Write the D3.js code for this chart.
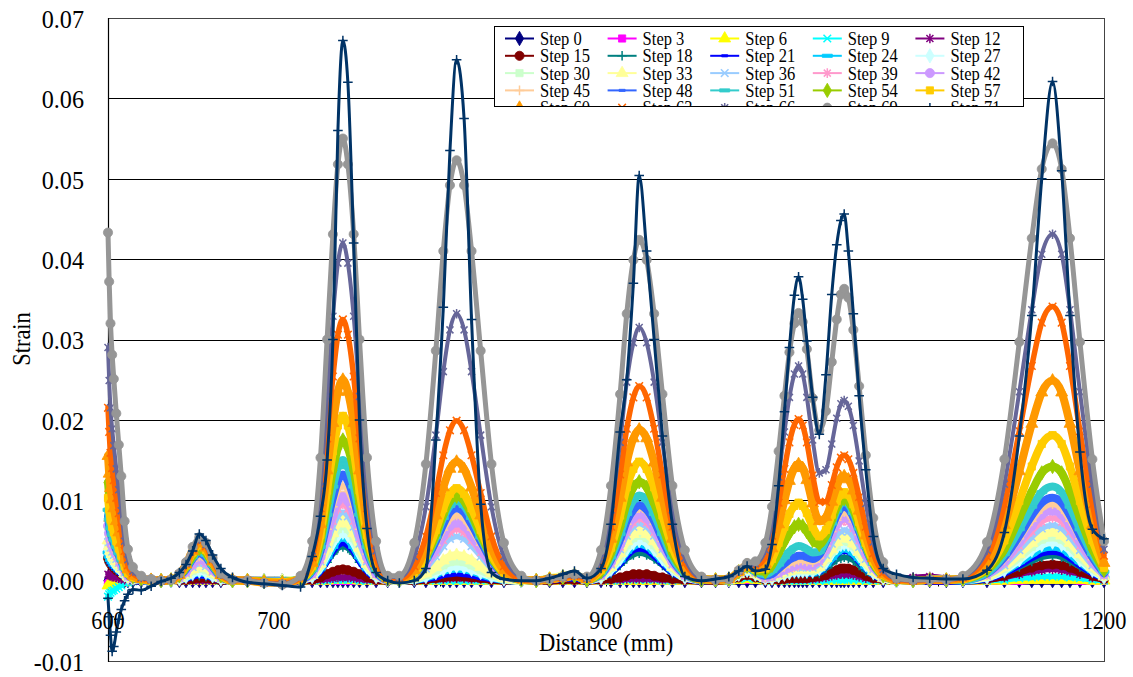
<!DOCTYPE html>
<html>
<head>
<meta charset="utf-8">
<script src="https://cdn.jsdelivr.net/npm/d3@7"></script>
<style>
html, body { margin: 0; padding: 0; background: #ffffff; }
svg { display: block; }
text { font-family: "Liberation Serif", "DejaVu Serif", serif; fill: #000; }
</style>
</head>
<body>
<svg id="chart" width="1133" height="677"></svg>
<script>
// Sensor positions along the specimen (mm)
const distance = [
  600, 600.7, 601.5, 602.5, 603.5, 605, 606.5, 608, 610, 612, 615,
  620, 626, 632, 638, 643, 647, 651, 655, 659, 663, 668, 675, 684, 694, 705,
  716, 723, 728, 732, 735.5, 738.5, 741.5, 744.5, 748, 751.5, 756, 761.5, 768.5,
  775.5, 784.5, 791.5, 797.5, 802, 806, 810, 814.5, 819, 824.5, 831, 838.5, 849,
  858, 866, 874, 881,
  888.5, 897, 903, 908.5, 912.5, 916.5, 920, 924.5, 929, 934, 940, 947.5, 957.5,
  966, 974, 980, 985,
  990, 996, 1000, 1004, 1007.5, 1010.5, 1013.5, 1016, 1018.5, 1021, 1024.5, 1028.5, 1032.5,
  1036, 1039, 1041.5, 1043.5, 1046, 1049, 1052.5, 1056.5, 1061, 1067, 1075, 1085,
  1095, 1105,
  1115, 1129.5, 1140, 1149, 1156.5, 1162.5, 1169, 1174.5, 1179.5, 1185.5, 1193, 1200
];

// Strain readings for each load step, in units of 1e-4
const step00 = [
  0,0,0,0,0,0,0,0,0,0,0,
  0,0,0,0,0,0,0,0,0,0,0,0,0,0,0,
  0,0,0,0,0,0,0,0,0,0,0,0,0,
  0,0,0,0,0,0,0,0,0,0,0,0,0,
  0,0,0,0,
  0,0,0,0,0,0,0,0,0,0,0,0,0,
  0,0,0,0,
  0,0,0,0,0,0,0,0,0,0,0,0,0,0,0,0,0,0,0,0,0,0,0,0,0,
  0,0,
  0,0,0,0,0,0,0,0,0,0,0,0
];
const step03 = [
  -4,-3,-3,-3,-2,-2,-2,-1,-1,0,0,
  0,0,0,0,0,0,0,0,0,0,0,0,0,0,0,
  0,0,0,0,0,0,0,0,0,0,0,0,0,
  0,0,0,0,0,0,0,0,0,0,0,0,0,
  0,0,0,0,
  0,0,0,0,0,0,0,0,0,0,0,0,0,
  0,0,1,1,
  1,0,0,0,0,0,0,0,0,0,0,0,0,0,0,0,0,0,0,0,0,0,0,0,0,
  0,0,
  0,0,0,0,1,1,1,1,1,0,0,0
];
const step06 = [
  -6,-5,-4,-4,-3,-3,-2,-2,-1,-1,0,
  0,0,0,0,0,0,0,0,0,0,0,0,0,0,0,
  0,0,0,0,1,1,1,1,1,0,0,0,0,
  0,0,0,0,0,0,0,0,0,0,0,0,0,
  0,0,0,0,
  0,0,0,0,0,0,0,0,0,0,0,0,0,
  0,0,1,2,
  1,0,0,0,0,0,0,0,0,0,0,0,0,0,0,0,0,0,0,0,0,0,0,0,0,
  0,0,
  0,0,0,1,1,1,1,1,1,1,0,0
];
const step09 = [
  -20,-17,-15,-13,-12,-10,-8,-6,-3,-2,-1,
  0,0,0,0,0,0,0,0,0,0,0,0,0,0,0,
  0,0,0,0,1,1,1,1,1,0,0,0,0,
  0,0,0,0,0,0,0,0,0,0,0,0,0,
  0,0,0,0,
  0,0,0,0,1,1,1,1,1,0,0,0,0,
  0,0,2,3,
  2,0,0,0,0,0,0,0,0,0,0,0,0,1,1,1,1,1,1,1,0,0,0,0,0,
  0,0,
  0,0,1,3,4,5,5,5,4,3,1,0
];
const step12 = [
  8,7,6,5,5,4,3,2,1,1,0,
  0,0,0,0,0,0,0,0,0,0,0,0,0,0,0,
  0,0,1,2,3,4,4,4,3,2,1,0,0,
  0,0,1,2,2,3,3,3,2,2,1,0,0,
  0,0,0,0,
  0,0,1,1,2,2,2,2,2,1,1,0,0,
  0,1,4,6,
  4,1,1,1,1,2,2,2,2,2,2,3,4,6,7,8,8,8,7,5,3,2,1,2,4,
  5,3,
  1,1,4,8,11,13,14,13,11,8,4,1
];
const step15 = [
  28,24,21,18,16,13,11,8,5,3,1,
  0,0,0,0,0,1,2,3,3,2,0,0,0,0,0,
  0,1,4,8,11,13,14,13,11,8,4,1,0,
  0,0,1,3,4,5,5,5,4,3,1,0,0,
  0,0,1,1,
  0,1,2,4,6,8,8,8,6,4,2,1,0,
  0,1,4,7,
  4,1,1,1,2,3,3,3,3,3,4,5,7,11,13,15,15,15,13,10,6,3,1,0,0,
  0,0,
  0,2,6,11,16,19,20,19,16,11,6,2
];
const step18 = [
  28,24,21,18,16,13,11,8,5,3,1,
  0,0,0,0,1,3,5,6,5,3,1,0,0,0,0,
  0,4,12,23,33,40,42,40,33,23,12,4,0,
  0,1,3,7,9,11,12,11,9,7,3,1,0,
  0,1,2,3,
  0,3,9,19,27,32,34,32,27,19,9,3,0,
  0,1,6,10,
  6,2,2,4,6,7,8,8,9,8,8,9,15,21,26,28,29,28,25,19,12,6,2,0,0,
  0,0,
  0,3,9,17,24,29,31,29,24,17,9,3
];
const step21 = [
  31,27,23,20,18,15,12,9,5,3,1,
  0,0,0,0,1,3,6,8,7,4,1,0,0,0,0,
  1,4,13,26,38,45,48,45,38,26,13,4,1,
  0,1,3,5,8,9,10,9,8,5,3,1,0,
  0,1,3,4,
  0,4,11,22,32,39,41,39,32,22,11,4,0,
  1,1,7,11,
  7,2,3,5,7,9,10,10,11,10,10,12,19,27,34,37,38,37,33,25,16,8,2,0,0,
  0,0,
  0,3,10,20,29,35,37,35,29,20,10,3
];
const step24 = [
  35,30,26,23,20,17,14,11,6,3,1,
  1,0,0,0,2,4,8,10,9,5,2,0,0,0,0,
  1,5,15,29,42,51,54,51,42,29,15,5,1,
  0,1,4,8,12,14,15,14,12,8,4,1,0,
  0,2,4,6,
  1,4,13,25,36,43,46,43,36,25,13,4,1,
  1,1,7,12,
  7,2,3,5,8,9,11,11,11,11,10,13,20,28,35,39,40,39,34,27,17,9,3,0,0,
  1,1,
  0,4,12,23,33,40,42,40,33,23,12,4
];
const step27 = [
  40,34,30,26,23,19,16,12,7,4,2,
  1,0,0,0,2,5,9,12,10,6,2,0,0,0,0,
  1,5,17,33,47,56,60,56,47,33,17,5,1,
  0,2,5,10,14,17,18,17,14,10,5,2,0,
  0,2,5,7,
  1,4,14,27,39,47,50,47,39,27,14,4,1,
  1,1,8,13,
  8,3,3,6,8,10,12,12,12,12,12,15,23,34,41,45,46,45,40,31,20,10,3,0,0,
  1,1,
  1,4,13,26,38,45,48,45,38,26,13,4
];
const step30 = [
  45,39,33,29,26,22,18,14,8,4,2,
  1,0,0,0,2,6,12,15,13,8,2,0,0,0,0,
  1,6,19,37,53,64,68,64,53,37,19,6,1,
  0,2,7,13,19,23,24,23,19,13,7,2,0,
  0,3,6,8,
  1,5,16,31,44,53,56,53,44,31,16,5,1,
  1,1,8,14,
  8,3,4,6,9,11,13,13,13,13,12,16,26,36,44,49,50,48,43,33,22,11,3,0,0,
  1,1,
  1,5,15,29,42,51,54,51,42,29,15,5
];
const step33 = [
  50,43,37,33,29,24,20,15,9,5,2,
  1,0,0,0,3,8,14,18,16,9,3,0,0,0,0,
  1,7,21,41,59,71,75,71,59,41,21,7,1,
  0,3,9,17,25,30,32,30,25,17,9,3,0,
  0,3,6,8,
  1,6,17,34,49,58,62,58,49,34,17,6,1,
  1,1,8,14,
  8,3,4,7,10,12,14,14,14,14,14,17,28,39,48,53,54,52,46,36,23,12,3,0,0,
  1,1,
  1,5,17,33,47,56,60,56,47,33,17,5
];
const step36 = [
  56,48,41,36,32,27,22,17,10,5,2,
  1,0,0,1,3,9,17,21,18,11,3,0,0,0,0,
  1,8,24,46,67,80,85,80,67,46,24,8,1,
  1,5,15,30,43,52,55,52,43,30,15,5,1,
  0,2,4,6,
  1,6,20,39,56,67,71,67,56,39,20,6,1,
  1,1,9,15,
  10,3,4,8,11,14,16,17,16,16,16,21,32,46,56,61,63,61,54,42,27,14,4,0,0,
  1,1,
  1,6,19,38,54,65,69,65,54,38,19,6
];
const step39 = [
  62,53,46,40,36,30,24,19,11,6,2,
  1,0,0,1,4,10,19,24,21,12,4,0,0,0,0,
  1,8,26,52,74,89,95,89,74,52,26,8,1,
  1,6,18,35,50,60,64,60,50,35,18,6,1,
  0,2,4,6,
  1,7,21,42,60,72,77,72,60,42,21,7,1,
  1,1,9,15,
  10,3,5,9,13,15,17,19,19,18,18,24,38,54,66,73,75,73,65,50,32,16,5,1,0,
  1,1,
  1,7,22,43,61,73,78,73,61,43,22,7
];
const step42 = [
  68,58,50,44,39,33,27,20,12,6,3,
  1,0,0,1,4,11,21,27,23,14,4,0,0,0,-1,
  1,9,29,57,82,99,105,99,82,57,29,9,1,
  1,6,20,39,56,68,72,68,56,39,20,6,1,
  0,2,4,6,
  1,7,23,45,65,78,83,78,65,45,23,7,1,
  1,1,10,16,
  11,4,6,10,14,17,19,21,21,19,20,26,39,57,70,77,79,77,68,53,34,17,5,1,0,
  1,1,
  1,8,24,48,68,82,87,82,68,48,24,8
];
const step45 = [
  74,64,55,48,43,36,29,22,13,7,3,
  1,0,0,1,5,13,24,30,26,15,5,0,0,0,-1,
  1,11,33,64,92,111,118,111,92,64,33,11,1,
  1,7,23,44,63,76,81,76,63,44,23,7,1,
  0,2,4,6,
  1,8,25,49,70,85,90,85,70,49,25,8,1,
  1,1,10,16,
  11,4,7,12,17,21,23,25,25,24,23,28,43,61,75,83,85,82,73,57,37,18,5,1,0,
  1,1,
  1,8,26,52,74,89,95,89,74,52,26,9
];
const step48 = [
  80,69,59,52,46,38,31,24,14,7,3,
  1,0,0,1,5,14,27,34,29,17,5,0,0,-1,-1,
  1,12,37,72,103,124,132,124,103,72,37,12,1,
  1,8,25,49,70,85,90,85,70,49,25,8,1,
  0,2,4,6,
  1,8,26,51,74,88,94,88,74,51,26,8,1,
  1,2,10,17,
  11,6,8,15,21,26,29,31,31,29,27,32,48,66,81,90,92,89,79,61,40,20,6,1,0,
  1,1,
  1,9,29,56,81,97,103,97,81,56,29,9
];
const step51 = [
  88,76,65,57,51,42,34,26,15,8,4,
  1,0,0,1,6,16,29,37,32,19,6,0,0,-1,-1,
  2,13,42,82,117,141,150,141,117,82,42,13,2,
  1,9,28,54,78,93,99,93,78,54,28,9,1,
  0,2,4,6,
  1,9,29,58,83,100,106,100,83,58,29,9,1,
  1,2,10,17,
  11,8,12,20,29,36,41,43,42,39,35,36,51,71,87,96,98,95,84,65,42,21,6,1,0,
  1,1,
  1,10,33,64,92,110,117,110,92,64,33,11
];
const step54 = [
  122,105,90,79,71,59,48,37,21,11,5,
  2,0,0,1,6,17,31,40,35,21,6,0,0,-1,-2,
  2,16,49,96,137,165,175,165,137,96,49,16,2,
  1,9,29,57,82,99,105,99,82,57,29,9,1,
  0,2,4,6,
  1,11,34,67,96,116,123,116,96,67,34,11,1,
  1,2,11,18,
  13,11,19,34,48,59,67,70,68,61,50,45,56,75,91,100,102,99,88,68,44,22,6,1,0,
  1,1,
  2,13,39,78,111,134,142,134,111,78,39,13
];
const step57 = [
  103,89,76,67,60,49,40,31,18,9,4,
  2,0,0,1,7,19,35,44,38,23,7,0,0,-2,-2,
  2,18,57,112,161,193,205,193,161,112,57,18,2,
  1,10,32,63,90,108,115,108,90,63,32,10,1,
  0,2,4,6,
  2,13,41,81,116,139,148,139,116,81,41,13,2,
  1,2,11,18,
  14,15,27,47,67,83,93,97,93,84,67,55,63,82,99,107,110,107,95,73,47,24,7,1,0,
  1,1,
  2,16,50,99,142,170,181,170,142,99,50,16
];
const step60 = [
  155,133,115,101,90,74,60,47,26,14,6,
  2,1,0,1,7,20,37,47,41,24,7,1,0,-2,-3,
  3,22,70,137,196,235,250,235,196,137,70,22,3,
  2,13,41,81,116,139,148,139,116,81,41,13,2,
  0,2,4,6,
  2,17,52,103,147,177,188,177,147,103,52,17,2,
  1,2,11,19,
  16,21,40,70,100,124,140,145,140,125,96,74,79,98,117,128,130,126,112,87,56,28,8,1,0,
  1,1,
  3,22,69,136,195,234,249,234,195,136,69,22
];
const step63 = [
  215,185,159,140,125,103,84,65,37,19,9,
  3,1,0,1,8,21,39,50,43,26,8,1,0,-3,-4,
  4,29,90,177,254,306,325,306,254,177,90,29,4,
  2,18,55,109,156,187,199,187,156,109,55,18,2,
  0,2,4,6,
  3,22,67,132,189,228,242,228,189,132,67,22,3,
  1,2,12,20,
  19,29,56,97,139,172,194,201,193,172,131,98,98,119,141,153,156,151,134,104,67,34,10,1,0,
  1,1,
  4,30,95,186,267,321,341,321,267,186,95,31
];
const step66 = [
  290,249,215,189,168,139,113,87,49,26,12,
  4,1,0,1,8,22,41,52,45,27,8,1,0,-3,-4,
  5,37,117,229,329,395,420,395,329,229,117,37,5,
  4,30,92,181,260,312,332,312,260,181,92,30,4,
  0,2,4,7,
  3,28,88,172,247,296,315,296,247,172,88,28,3,
  1,2,12,20,
  21,38,74,129,185,228,257,267,257,228,175,134,138,170,202,220,224,217,193,149,96,48,14,2,0,
  1,1,
  5,38,120,235,337,406,431,406,337,235,120,39
];
const step69 = [
  433,372,320,281,251,208,169,130,74,39,17,
  6,2,0,1,9,23,42,54,47,28,9,1,0,-3,-5,
  6,49,153,300,431,518,550,518,431,300,153,49,6,
  6,47,145,286,410,492,523,492,410,286,145,47,6,
  0,2,5,8,
  5,38,118,232,332,399,424,399,332,232,118,38,5,
  1,2,13,22,
  24,47,92,161,230,284,320,333,322,288,227,187,211,272,325,356,363,352,312,242,156,78,23,3,1,
  1,1,
  6,48,151,297,426,512,544,512,426,297,151,49
];
const step71 = [
  -22,-45,-68,-88,-82,-64,-48,-36,-25,-17,-11,
  -12,-7,-1,3,10,20,37,58,50,32,15,4,-2,-4,-6,
  -8,30,80,150,300,560,672,620,420,200,65,10,0,
  -3,0,15,175,340,535,648,575,325,95,10,2,0,
  0,3,8,12,
  3,15,70,185,250,370,504,410,300,180,70,5,0,
  2,5,12,18,
  12,14,45,118,210,290,355,378,350,298,228,182,256,356,418,448,456,410,332,230,138,55,15,8,4,
  3,2,
  2,13,60,180,330,500,621,510,330,160,64,52
];

const stepNames = [
  "Step 0", "Step 3", "Step 6", "Step 9", "Step 12",
  "Step 15", "Step 18", "Step 21", "Step 24", "Step 27",
  "Step 30", "Step 33", "Step 36", "Step 39", "Step 42",
  "Step 45", "Step 48", "Step 51", "Step 54", "Step 57",
  "Step 60", "Step 63", "Step 66", "Step 69", "Step 71"
];
const stepValues = [
  step00, step03, step06, step09, step12,
  step15, step18, step21, step24, step27,
  step30, step33, step36, step39, step42,
  step45, step48, step51, step54, step57,
  step60, step63, step66, step69, step71
];

const yTicks = [-0.01, 0.00, 0.01, 0.02, 0.03, 0.04, 0.05, 0.06, 0.07];
const yTickLabels = ["-0.01", "0.00", "0.01", "0.02", "0.03", "0.04", "0.05", "0.06", "0.07"];
const xTicks = [600, 700, 800, 900, 1000, 1100, 1200];
const xTickLabels = ["600", "700", "800", "900", "1000", "1100", "1200"];

// ---- styling (classic spreadsheet series palette and marker cycle) ----
const palette = [
  "#000080", "#FF00FF", "#FFFF00", "#00FFFF", "#800080",
  "#800000", "#008080", "#0000FF", "#00CCFF", "#CCFFFF",
  "#CCFFCC", "#FFFF99", "#99CCFF", "#FF99CC", "#CC99FF",
  "#FFCC99", "#3366FF", "#33CCCC", "#99CC00", "#FFCC00",
  "#FF9900", "#FF6600", "#666699", "#969696", "#003366"
];
const markerCycle = ["diamond", "square", "triangle", "cross", "star", "circle", "plus", "dash", "longdash"];

function markerPath(type) {
  switch (type) {
    case "diamond":  return d3.symbol(d3.symbolDiamond, 60)();
    case "square":   return d3.symbol(d3.symbolSquare, 52)();
    case "triangle": return d3.symbol(d3.symbolTriangle, 62)();
    case "circle":   return d3.symbol(d3.symbolCircle, 66)();
    case "cross":    return "M-3.8,-3.8L3.8,3.8M-3.8,3.8L3.8,-3.8";
    case "star":     return "M-3.5,-3.5L3.5,3.5M-3.5,3.5L3.5,-3.5M0,-4.8L0,4.8";
    case "plus":     return "M-4.8,0L4.8,0M0,-4.8L0,4.8";
    case "dash":     return "M-3,-1.1H3V1.1H-3Z";
    case "longdash": return "M-5,-1.6H5V1.6H-5Z";
  }
}
const strokeOnly = new Set(["cross", "star", "plus"]);

function styleMarker(sel, type, color) {
  if (strokeOnly.has(type)) {
    sel.attr("fill", "none").attr("stroke", color).attr("stroke-width", 1.5);
  } else {
    sel.attr("fill", color).attr("stroke", color).attr("stroke-width", 0.8);
  }
}

// width of the densely packed marker band drawn beneath each series' glyphs
function bandWidth(i, type) {
  const name = stepNames[i];
  if (name === "Step 71") return 3;
  if (name === "Step 69") return 5;
  if (name === "Step 66") return 4;
  return strokeOnly.has(type) ? 5.5 : 8;
}

// condensed serif text helper
function addText(parent, str, x, y, opts) {
  const o = Object.assign({ size: 26, anchor: "middle", sx: 0.9, rotate: 0, baseline: null }, opts || {});
  const t = parent.append("text")
    .attr("transform", `translate(${x},${y}) rotate(${o.rotate}) scale(${o.sx},1)`)
    .attr("text-anchor", o.anchor)
    .attr("font-size", o.size)
    .text(str);
  if (o.baseline) t.attr("dominant-baseline", o.baseline);
  return t;
}

// ---- chart ----
const svg = d3.select("#chart");
const plot = { left: 108, right: 1104, top: 18, bottom: 661 };

const x = d3.scaleLinear().domain([600, 1200]).range([plot.left, plot.right]);
const y = d3.scaleLinear().domain([-0.01, 0.07]).range([plot.bottom, plot.top]);

svg.append("rect").attr("width", 1133).attr("height", 677).attr("fill", "#fff");

// horizontal gridlines
svg.append("g")
  .selectAll("line")
  .data(yTicks.filter(v => v > -0.01 && v < 0.07))
  .join("line")
  .attr("x1", plot.left).attr("x2", plot.right)
  .attr("y1", d => Math.round(y(d)) + 0.5).attr("y2", d => Math.round(y(d)) + 0.5)
  .attr("stroke", "#000").attr("stroke-width", 1);

// frame
svg.append("rect")
  .attr("x", plot.left + 0.5).attr("y", plot.top + 0.5)
  .attr("width", plot.right - plot.left).attr("height", plot.bottom - plot.top)
  .attr("fill", "none").attr("stroke", "#444").attr("stroke-width", 1);
svg.append("line")
  .attr("x1", plot.left + 0.5).attr("x2", plot.left + 0.5)
  .attr("y1", plot.top).attr("y2", plot.bottom + 1)
  .attr("stroke", "#000").attr("stroke-width", 1.2);

// x axis crossing at zero strain, ticks only
const xAxis = d3.axisBottom(x).tickValues(xTicks).tickSize(5).tickFormat("");
const xAxisG = svg.append("g").attr("transform", `translate(0,${Math.round(y(0)) + 0.5})`).call(xAxis);
xAxisG.select(".domain").attr("stroke", "#000");
xAxisG.selectAll(".tick line").attr("stroke", "#000").attr("y1", -5);

// series
const line = d3.line()
  .x(d => x(d[0]))
  .y(d => y(d[1]))
  .curve(d3.curveMonotoneX);

const seriesG = svg.append("g");
stepValues.forEach((vals, i) => {
  const color = palette[i];
  const type = markerCycle[i % markerCycle.length];
  const pts = distance.map((d, k) => [d, vals[k] / 10000]);
  const g = seriesG.append("g");
  g.append("path")
    .attr("d", line(pts))
    .attr("fill", "none")
    .attr("stroke", color)
    .attr("stroke-width", bandWidth(i, type))
    .attr("stroke-linejoin", "round")
    .attr("stroke-linecap", "round");
  const mp = markerPath(type);
  g.selectAll("path.m")
    .data(pts)
    .join("path")
    .attr("class", "m")
    .attr("d", mp)
    .attr("transform", d => `translate(${x(d[0])},${y(d[1])})`)
    .call(styleMarker, type, color);
});

// y tick labels
yTicks.forEach((v, i) => {
  addText(svg, yTickLabels[i], 84, y(v) + 1, { anchor: "end", size: 26, sx: 0.93, baseline: "central" });
});
// x tick labels
xTicks.forEach((v, i) => {
  addText(svg, xTickLabels[i], x(v), 629, { anchor: "middle", size: 26, sx: 0.86 });
});
// axis titles
addText(svg, "Distance (mm)", 606, 651, { anchor: "middle", size: 25, sx: 0.9 });
addText(svg, "Strain", 30, 339, { anchor: "middle", size: 25, sx: 0.9, rotate: -90 });

// legend
const leg = { x: 494, y: 26, w: 529, h: 80 };
svg.append("clipPath").attr("id", "legclip")
  .append("rect").attr("x", leg.x).attr("y", leg.y).attr("width", leg.w).attr("height", leg.h);
const legG = svg.append("g");
legG.append("rect")
  .attr("x", leg.x + 0.5).attr("y", leg.y + 0.5).attr("width", leg.w).attr("height", leg.h)
  .attr("fill", "#fff").attr("stroke", "#000").attr("stroke-width", 1);
const legItems = legG.append("g").attr("clip-path", "url(#legclip)");
stepNames.forEach((name, i) => {
  const col = i % 5, row = Math.floor(i / 5);
  const x0 = 505 + col * 102.6;
  const yr = 38.5 + row * 17.3;
  const color = palette[i];
  const type = markerCycle[i % markerCycle.length];
  legItems.append("line")
    .attr("x1", x0).attr("x2", x0 + 29).attr("y1", yr).attr("y2", yr)
    .attr("stroke", color).attr("stroke-width", 2);
  legItems.append("path")
    .attr("d", markerPath(type))
    .attr("transform", `translate(${x0 + 14.5},${yr})`)
    .call(styleMarker, type, color);
  addText(legItems, name, x0 + 35, yr + 6.5, { anchor: "start", size: 19, sx: 0.87 });
});
</script>
</body>
</html>
